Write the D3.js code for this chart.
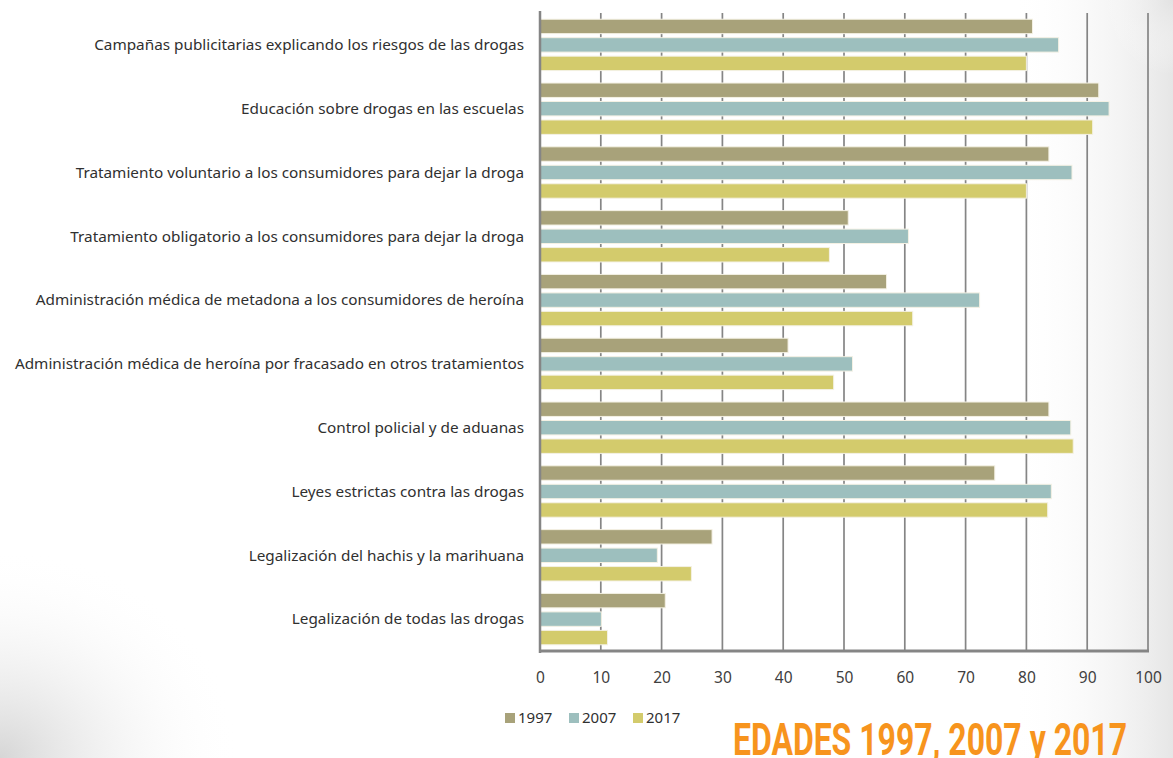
<!DOCTYPE html>
<html>
<head>
<meta charset="utf-8">
<script src="https://cdn.jsdelivr.net/npm/d3@7"></script>
<style>
  body { margin: 0; background: #fff; }
  svg { display: block; font-family: "Noto Sans", "Open Sans", sans-serif; }
</style>
</head>
<body>
<div class="chart"></div>
<script>
var categories = [
  "Campañas publicitarias explicando los riesgos de las drogas",
  "Educación sobre drogas en las escuelas",
  "Tratamiento voluntario a los consumidores para dejar la droga",
  "Tratamiento obligatorio a los consumidores para dejar la droga",
  "Administración médica de metadona a los consumidores de heroína",
  "Administración médica de heroína por fracasado en otros tratamientos",
  "Control policial y de aduanas",
  "Leyes estrictas contra las drogas",
  "Legalización del hachis y la marihuana",
  "Legalización de todas las drogas"
];
var years = ["1997", "2007", "2017"];
var v1997 = [81.0, 91.9, 83.7, 50.7, 57.0, 40.8, 83.7, 74.8, 28.3, 20.6];
var v2007 = [85.3, 93.6, 87.5, 60.6, 72.3, 51.4, 87.3, 84.1, 19.3, 10.1];
var v2017 = [80.0, 90.9, 80.0, 47.6, 61.3, 48.3, 87.7, 83.5, 24.9, 11.1];
var ticks = [0, 10, 20, 30, 40, 50, 60, 70, 80, 90, 100];
var title = "EDADES 1997, 2007 y 2017";

var W = 1173, H = 758;
var svg = d3.select(".chart").append("svg")
    .attr("width", W).attr("height", H);

// slide background with grey shading in the corners
var defs = svg.append("defs");
var g1 = defs.append("radialGradient").attr("id", "bl")
    .attr("cx", 0).attr("cy", 1).attr("r", 0.5);
g1.append("stop").attr("offset", 0).attr("stop-color", "#d6d6d6");
g1.append("stop").attr("offset", 1).attr("stop-color", "#fff").attr("stop-opacity", 0);
var g2 = defs.append("linearGradient").attr("id", "rt")
    .attr("x1", 0).attr("x2", 1).attr("y1", 0).attr("y2", 0);
g2.append("stop").attr("offset", 0).attr("stop-color", "#fff").attr("stop-opacity", 0);
g2.append("stop").attr("offset", 1).attr("stop-color", "#e6e6e6");
var g3 = defs.append("radialGradient").attr("id", "tr")
    .attr("cx", 1).attr("cy", 0).attr("r", 0.25);
g3.append("stop").attr("offset", 0).attr("stop-color", "#e2e2e2");
g3.append("stop").attr("offset", 1).attr("stop-color", "#fff").attr("stop-opacity", 0);

svg.append("rect").attr("width", W).attr("height", H).attr("fill", "#fff");
svg.append("rect").attr("width", 480).attr("height", 420).attr("y", H - 420).attr("fill", "url(#bl)");
svg.append("rect").attr("x", 1010).attr("width", 163).attr("height", H).attr("fill", "url(#rt)");
svg.append("rect").attr("x", 900).attr("width", 273).attr("height", 300).attr("fill", "url(#tr)");

var mLeft = 540, mRight = 1148, mTop = 13, mBottom = 651;

var x = d3.scaleLinear().domain([0, 100]).range([mLeft, mRight]);
var y0 = d3.scaleBand().domain(categories).range([mTop, mBottom])
    .paddingInner(0.195).paddingOuter(0.0975);
var y1 = d3.scaleBand().domain(years).range([0, y0.bandwidth()])
    .paddingInner(0.22).paddingOuter(0);
var color = d3.scaleOrdinal().domain(years).range(["#a8a27a", "#9dbfbe", "#d3cb6c"]);

var rows = categories.map(function(c, i) {
  return { cat: c, vals: [
    { year: "1997", v: v1997[i] },
    { year: "2007", v: v2007[i] },
    { year: "2017", v: v2017[i] }
  ]};
});

// vertical gridlines
svg.append("g").attr("class", "grid")
  .selectAll("line")
  .data(ticks.slice(1))
  .enter().append("line")
    .attr("x1", function(d) { return x(d); })
    .attr("x2", function(d) { return x(d); })
    .attr("y1", mTop).attr("y2", mBottom)
    .attr("stroke", "#858585").attr("stroke-width", 1.7);

// bars
var group = svg.append("g").attr("class", "bars")
  .selectAll("g")
  .data(rows)
  .enter().append("g")
    .attr("transform", function(d) { return "translate(0," + y0(d.cat) + ")"; });

group.selectAll("rect")
  .data(function(d) { return d.vals; })
  .enter().append("rect")
    .attr("x", x(0))
    .attr("y", function(d) { return y1(d.year); })
    .attr("width", function(d) { return x(d.v) - x(0); })
    .attr("height", y1.bandwidth())
    .attr("fill", function(d) { return color(d.year); })
    .attr("stroke", "#f4f1e4").attr("stroke-width", 1);

// axis lines
svg.append("line").attr("x1", mLeft).attr("x2", mLeft).attr("y1", mTop - 2).attr("y2", mBottom + 2)
    .attr("stroke", "#858585").attr("stroke-width", 2.5);
svg.append("line").attr("x1", mLeft - 1).attr("x2", mRight + 1).attr("y1", mBottom).attr("y2", mBottom)
    .attr("stroke", "#858585").attr("stroke-width", 3);

// x tick labels
var xAxis = svg.append("g")
    .attr("transform", "translate(0,672)")
    .call(d3.axisBottom(x).tickValues(ticks).tickSize(0).tickPadding(0));
xAxis.select(".domain").remove();
xAxis.selectAll("text")
    .attr("font-size", 15.5).attr("fill", "#404040")
    .attr("font-family", "'Noto Sans', sans-serif");

// category labels
svg.append("g").attr("class", "cats")
  .selectAll("text")
  .data(categories)
  .enter().append("text")
    .attr("x", mLeft - 16)
    .attr("y", function(d) { return y0(d) + y1("2007") + y1.bandwidth() / 2; })
    .attr("dy", "0.35em")
    .attr("text-anchor", "end")
    .attr("font-size", 15.3)
    .attr("fill", "#303030")
    .text(function(d) { return d; });

// legend
var legend = svg.append("g").attr("class", "legend")
  .selectAll("g")
  .data(years)
  .enter().append("g")
    .attr("transform", function(d, i) { return "translate(" + (505 + i * 64) + ",713)"; });
legend.append("rect").attr("width", 10).attr("height", 10)
    .attr("fill", function(d) { return color(d); });
legend.append("text").attr("x", 13).attr("y", 5).attr("dy", "0.35em")
    .attr("font-size", 15).attr("fill", "#303030")
    .text(function(d) { return d; });

// title
svg.append("text")
    .attr("x", 733).attr("y", 755)
    .attr("font-family", "Roboto, sans-serif")
    .attr("font-weight", "bold")
    .attr("font-size", 44)
    .attr("textLength", 394)
    .attr("lengthAdjust", "spacingAndGlyphs")
    .attr("fill", "#f7941d")
    .text(title);
</script>
</body>
</html>
